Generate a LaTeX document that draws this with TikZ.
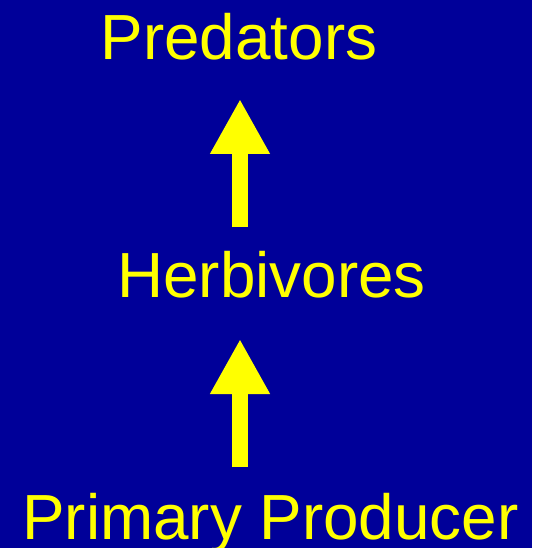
\documentclass[tikz,border=0pt]{standalone}
\usepackage{fontspec}
\setmainfont{Liberation Sans}
\usetikzlibrary{arrows.meta}
\definecolor{slideblue}{RGB}{0,0,153}
\definecolor{slideyellow}{RGB}{255,255,0}

\begin{document}
\begin{tikzpicture}[x=1pt,y=-1pt]
		\tikzstyle{level}=[text=slideyellow,inner sep=0pt,anchor=base,font=\fontsize{63.8}{70}\selectfont]
		\tikzstyle{uparrow}=[draw=slideyellow,line width=16pt,-{Triangle[length=55pt,width=56pt,fill=slideyellow]}]
		
		\fill[slideblue] (0,0) rectangle (532,548);
		\useasboundingbox (0,0) rectangle (532,548);
		
		\node[level](pred) at (239,59.5){Predators};
		\node[level](herb) at (271.5,297){Herbivores};
		\node[level](prim) at (270.5,539.5){Primary Producer};
		
		%\coordinate ends of the two shafts
		\coordinate(a1s) at (240,227);
		\coordinate(a1t) at (240,99);
		\coordinate(a2s) at (240,467);
		\coordinate(a2t) at (240,339);
		
		\draw[uparrow] (a1s) -- (a1t);
		\draw[uparrow] (a2s) -- (a2t);
\end{tikzpicture}
\end{document}
